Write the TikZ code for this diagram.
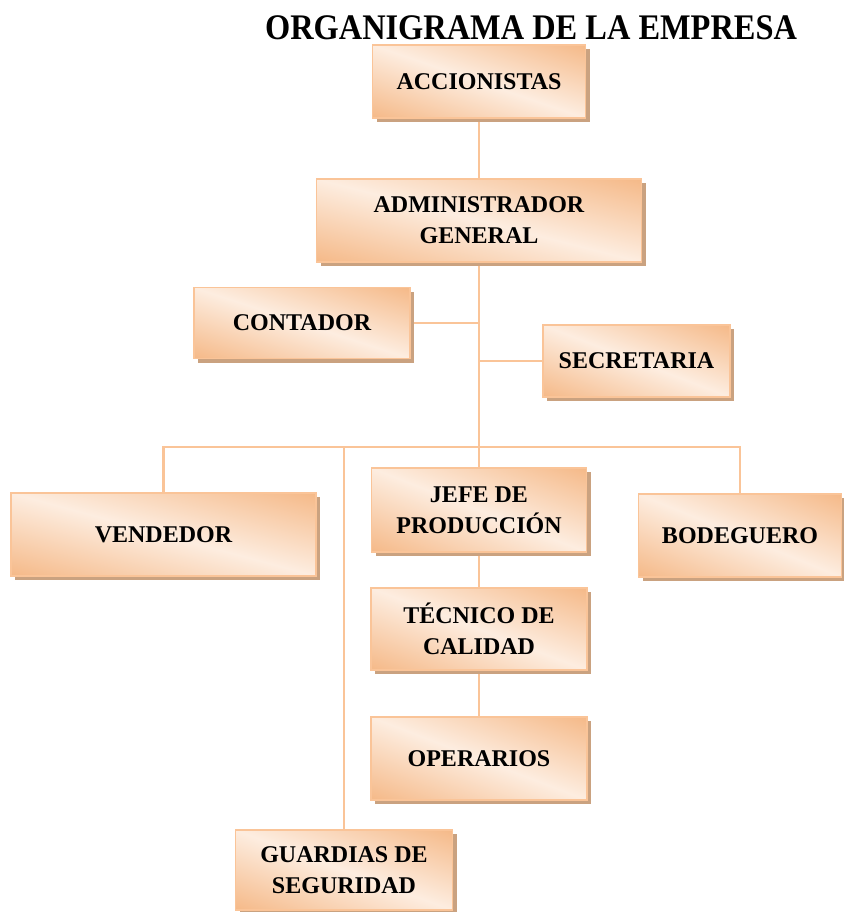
\documentclass[tikz,border=0pt]{standalone}
\usepackage{fontspec}
\setmainfont{Liberation Serif}
\usetikzlibrary{shadows,backgrounds}
\definecolor{bline}{RGB}{250,196,152}
\definecolor{shad}{RGB}{202,162,128}
\definecolor{connc}{RGB}{250,196,152}
% light along the NW-SE diagonal of the box, orange towards NE and SW corners
\pgfdeclarefunctionalshading{diagshade}{\pgfpoint{0bp}{0bp}}{\pgfpoint{100bp}{100bp}}{}{
  add 100 sub abs 50 div
  dup dup -8 mul 253 add 255 div 3 1 roll
  -52 mul 237 add 255 div exch
  -88 mul 224 add 255 div
}
\begin{document}
\begin{tikzpicture}[x=1pt,y=-1pt,
  box/.style={draw=bline, line width=1.5pt, shade, shading=diagshade,
    align=center, inner sep=0pt,
    font=\bfseries\fontsize{24}{31}\selectfont,
    drop shadow={shadow xshift=4pt, shadow yshift=-4pt, fill=shad, opacity=1}},
  connline/.style={draw=connc, line width=2.5pt}]
\useasboundingbox (0,0) rectangle (843,912);

\node (title) at (531,28) {\scalebox{0.9}[1]{\bfseries\fontsize{36}{36}\selectfont ORGANIGRAMA DE LA EMPRESA}};

\node[box, minimum width=213, minimum height=73] (acc) at (479,81.5) {ACCIONISTAS};
\node[box, minimum width=325, minimum height=83] (adm) at (479,220.5) {ADMINISTRADOR\\GENERAL};
\node[box, minimum width=216, minimum height=71] (cont) at (302,323) {CONTADOR};
\node[box, minimum width=187, minimum height=72] (sec) at (636.5,361) {SECRETARIA};
\node[box, minimum width=305, minimum height=83] (vend) at (163.5,534.5) {VENDEDOR};
\node[box, minimum width=215, minimum height=84] (jefe) at (479,510) {JEFE DE\\PRODUCCIÓN};
\node[box, minimum width=203, minimum height=83] (bod) at (740,535.5) {BODEGUERO};
\node[box, minimum width=216, minimum height=82] (tec) at (479,629) {TÉCNICO DE\\CALIDAD};
\node[box, minimum width=216, minimum height=83] (oper) at (479,758.5) {OPERARIOS};
\node[box, minimum width=217, minimum height=80] (guard) at (344,870) {GUARDIAS DE\\SEGURIDAD};

\coordinate (bus) at (479,447);

\begin{scope}[on background layer]
  \draw[connline] (acc.south) -- (adm.north);
  \draw[connline] (adm.south) -- (jefe.north);
  \draw[connline] (cont.east) -- (cont.east -| adm.south);
  \draw[connline] (sec.west) -- (sec.west -| adm.south);
  \draw[connline] (vend.north) -- (vend.north |- bus) -- (bod.north |- bus) -- (bod.north);
  \draw[connline] (guard.north) -- (guard.north |- bus);
  \draw[connline] (jefe.south) -- (tec.north);
  \draw[connline] (tec.south) -- (oper.north);
\end{scope}
\end{tikzpicture}
\end{document}
